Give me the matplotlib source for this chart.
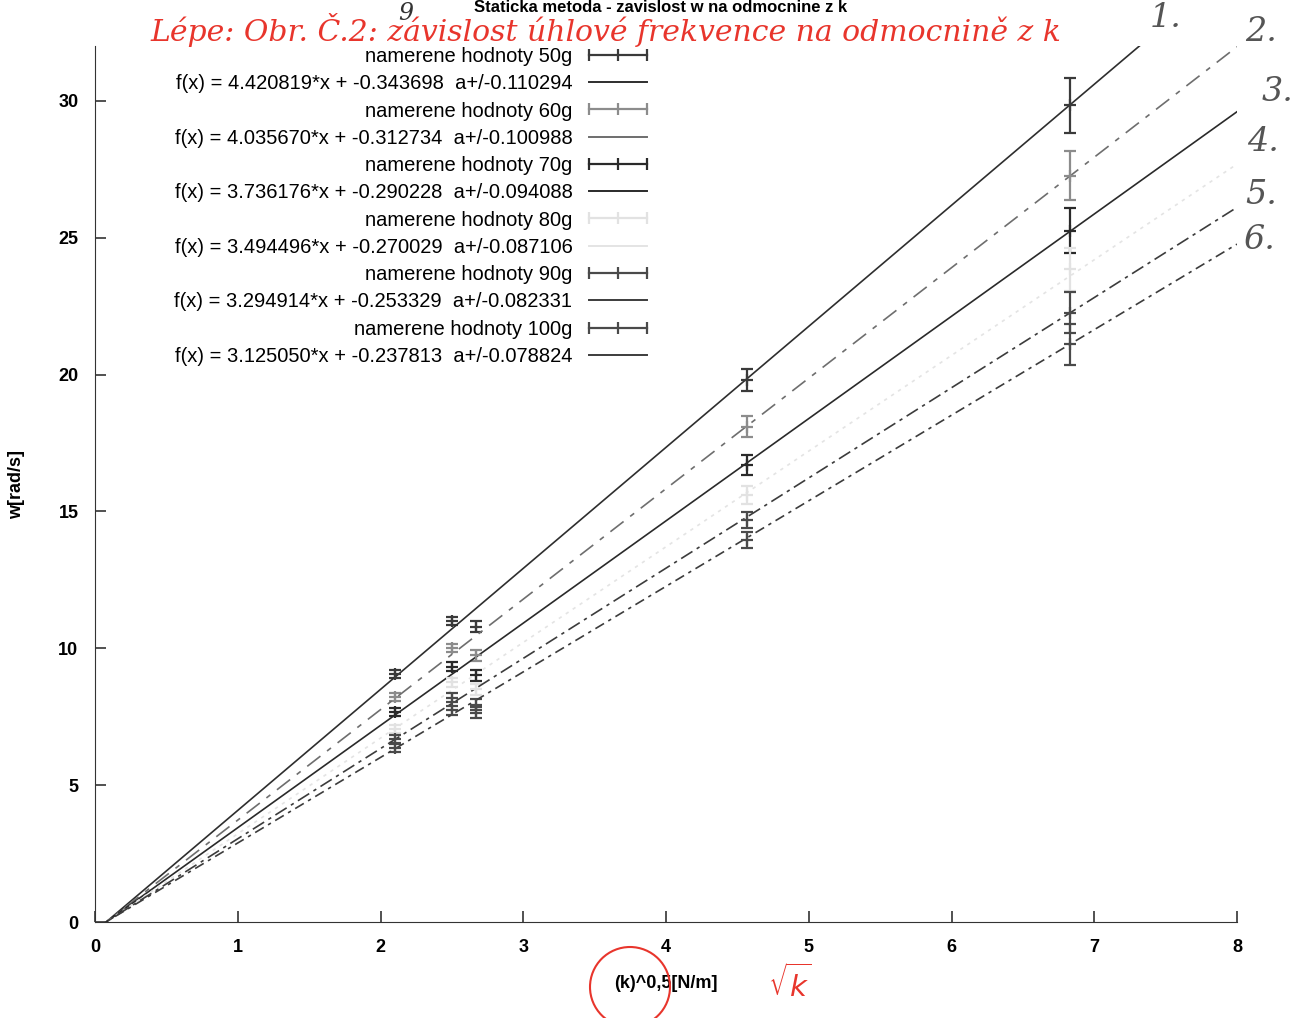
import numpy as np
import matplotlib
matplotlib.use('Agg')
import matplotlib.pyplot as plt
from matplotlib.lines import Line2D
from matplotlib.patches import Ellipse

plt.rcParams['font.family'] = ['Liberation Sans', 'DejaVu Sans']

# measured points: sqrt(k) vs angular frequency, one series per mass
masses = ['50g', '60g', '70g', '80g', '90g', '100g']
x_vals = [2.10, 2.50, 2.67, 4.57, 6.83]
w_50 = [9.06, 11.01, 10.78, 19.80, 29.83]
w_60 = [8.22, 10.02, 9.75, 18.10, 27.26]
w_70 = [7.67, 9.33, 9.02, 16.70, 25.25]
w_80 = [7.05, 8.75, 8.50, 15.60, 23.84]
w_90 = [6.68, 8.20, 7.93, 14.67, 22.26]
w_100 = [6.35, 7.73, 7.64, 13.94, 21.10]
err_50 = [0.15, 0.15, 0.20, 0.40, 1.00]
err_60 = [0.15, 0.15, 0.20, 0.38, 0.90]
err_70 = [0.15, 0.15, 0.20, 0.37, 0.82]
err_80 = [0.15, 0.15, 0.20, 0.33, 0.78]
err_90 = [0.15, 0.15, 0.20, 0.29, 0.75]
err_100 = [0.15, 0.15, 0.20, 0.29, 0.75]

# fit results f(x) = a*x + b
fit_a = [4.420819, 4.035670, 3.736176, 3.494496, 3.294914, 3.125050]
fit_b = [-0.343698, -0.312734, -0.290228, -0.270029, -0.253329, -0.237813]
fit_da = [0.110294, 0.100988, 0.094088, 0.087106, 0.082331, 0.078824]

series_w = [w_50, w_60, w_70, w_80, w_90, w_100]
series_err = [err_50, err_60, err_70, err_80, err_90, err_100]

point_colors = ['#3a3a3a', '#8c8c8c', '#2a2a2a', '#e2e2e2', '#4a4a4a', '#4a4a4a']
fit_colors = ['#2e2e2e', '#6e6e6e', '#2a2a2a', '#e4e4e4', '#3c3c3c', '#3c3c3c']
fit_styles = ['-', (0, (10, 5, 3, 5)), '-', (0, (2, 3)), (0, (8, 3, 2, 3)), (0, (6, 3, 2, 3))]

fig = plt.figure(figsize=(12.95, 10.18), dpi=100)
ax = fig.add_axes([0.0734, 0.0943, 0.8818, 0.8605])

xs = np.linspace(0, 8, 400)
handles, labels = [], []
for i, m in enumerate(masses):
    ax.errorbar(x_vals, series_w[i], yerr=series_err[i], fmt='+', color=point_colors[i],
                ms=8, mew=1.6, elinewidth=1.6, capsize=4, capthick=1.6)
    ax.plot(xs, fit_a[i] * xs + fit_b[i], color=fit_colors[i], ls=fit_styles[i], lw=1.2)
    handles.append(Line2D([], [], color=point_colors[i], lw=1.6, marker='|', ms=8, mew=1.6))
    labels.append('namerene hodnoty ' + m)
    handles.append(Line2D([], [], color=fit_colors[i], lw=1.4))
    labels.append('f(x) = %.6f*x + %.6f  a+/-%.6f' % (fit_a[i], fit_b[i], fit_da[i]))

ax.set_xlim(0, 8)
ax.set_ylim(0, 32)
ax.set_xticks(range(0, 9))
ax.set_yticks(range(0, 31, 5))
ax.spines['top'].set_visible(False)
ax.spines['right'].set_visible(False)
ax.spines['left'].set_color('#333333')
ax.spines['bottom'].set_color('#333333')
ax.tick_params(direction='in', length=8, width=1.2, color='#333333', labelsize=13, pad=12)
for t in ax.get_xticklabels() + ax.get_yticklabels():
    t.set_fontweight('bold')
ax.set_xlabel('(k)^0,5[N/m]', fontsize=13, fontweight='bold', labelpad=14)
ax.set_ylabel('w[rad/s]', fontsize=13, fontweight='bold', labelpad=24)

leg = ax.legend(handles, labels, loc='upper right', bbox_to_anchor=(653 / 1295, 1 - 47 / 1018),
                bbox_transform=fig.transFigure, frameon=False, markerfirst=False, numpoints=3,
                fontsize=14.5, labelspacing=0.41, handlelength=3.5, handletextpad=0.5,
                borderpad=0, borderaxespad=0)
for col in leg._legend_handle_box.get_children():
    col.align = 'right'

fig.text(0.51, 1.0, 'Staticka metoda - zavislost w na odmocnine z k', ha='center', va='top',
         fontsize=12, fontweight='bold')

# handwritten notes on the scanned print
red = '#e8352c'
fig.text(150 / 1295, 1 - 30 / 1018, 'Lépe: Obr. Č.2: závislost úhlové frekvence na odmocnině z k',
         color=red, fontsize=21.5, style='italic', family='DejaVu Serif', va='center')
fig.text(398 / 1295, 1 - 13 / 1018, '9', color='#333333', fontsize=17, style='italic',
         family='DejaVu Serif', va='center')
for num, (px, py) in zip(['1.', '2.', '3.', '4.', '5.', '6.'],
                         [(1150, 18), (1245, 32), (1262, 92), (1247, 142), (1245, 195), (1243, 240)]):
    fig.text(px / 1295, 1 - py / 1018, num, color='#555555', fontsize=24, style='italic',
             family='DejaVu Serif', va='center')
fig.patches.append(Ellipse((630 / 1295, 1 - 987 / 1018), 80 / 1295, 80 / 1018, transform=fig.transFigure,
                           fill=False, ec=red, lw=1.5))
fig.text(790 / 1295, 1 - 983 / 1018, r'$\sqrt{k}$', color=red, fontsize=21, va='center', ha='center')

fig.savefig('out.png', dpi=100)
